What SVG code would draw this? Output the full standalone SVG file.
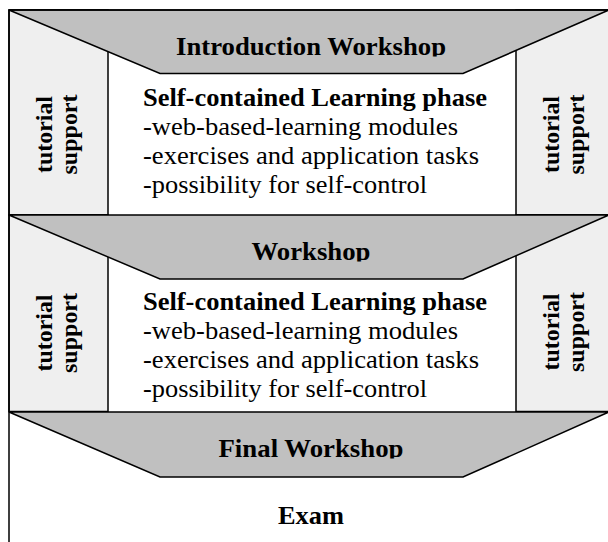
<svg xmlns="http://www.w3.org/2000/svg" width="608" height="542" viewBox="0 0 608 542">
<style>
.ln{stroke:#000;stroke-width:1.5;fill:none}
.panel{fill:#efefef;stroke:#000;stroke-width:1.5}
.trap{fill:#c0c0c0;stroke:#000;stroke-width:1.5;stroke-linejoin:miter}
text{font-family:'Liberation Serif',serif;fill:#000}
.b{font-weight:bold}
.title{font-size:25px;font-weight:bold;text-anchor:middle}
.body{font-size:25px}
.vert{font-size:23px;font-weight:bold;text-anchor:middle}
</style>
<defs>
<clipPath id="c1"><rect x="0" y="0" width="608" height="56.5"/></clipPath>
<clipPath id="c2"><rect x="0" y="215" width="608" height="46.5"/></clipPath>
<clipPath id="c3"><rect x="0" y="412" width="608" height="46.5"/></clipPath>
</defs>
<rect x="0" y="0" width="608" height="542" fill="#fff"/>

<g id="section1">
<g id="tutorial-left-1">
<rect class="panel" x="9" y="10" width="99" height="205"/>
<text class="vert" font-family="Liberation Serif, serif" transform="translate(51.5,134.5) rotate(-90)" textLength="77" lengthAdjust="spacingAndGlyphs">tutorial</text>
<text class="vert" font-family="Liberation Serif, serif" transform="translate(77,134.5) rotate(-90)" textLength="80" lengthAdjust="spacingAndGlyphs">support</text>
</g>
<g id="tutorial-right-1">
<rect class="panel" x="516" y="10" width="93" height="205"/>
<text class="vert" font-family="Liberation Serif, serif" transform="translate(558.5,134.5) rotate(-90)" textLength="77" lengthAdjust="spacingAndGlyphs">tutorial</text>
<text class="vert" font-family="Liberation Serif, serif" transform="translate(584,134.5) rotate(-90)" textLength="80" lengthAdjust="spacingAndGlyphs">support</text>
</g>
<g id="intro-workshop">
<polygon class="trap" points="9,10 609,10 463,73.5 160,73.5"/>
<text class="title" font-family="Liberation Serif, serif" x="311" y="55" textLength="270" lengthAdjust="spacingAndGlyphs" clip-path="url(#c1)">Introduction Workshop</text>
</g>
<g id="learning-1">
<text class="body b" font-family="Liberation Serif, serif" x="143" y="106" textLength="344" lengthAdjust="spacingAndGlyphs">Self-contained Learning phase</text>
<text class="body" font-family="Liberation Serif, serif" x="143" y="135" textLength="315" lengthAdjust="spacingAndGlyphs">-web-based-learning modules</text>
<text class="body" font-family="Liberation Serif, serif" x="143" y="164" textLength="336" lengthAdjust="spacingAndGlyphs">-exercises and application tasks</text>
<text class="body" font-family="Liberation Serif, serif" x="143" y="193" textLength="284" lengthAdjust="spacingAndGlyphs">-possibility for self-control</text>
</g>
</g>

<g id="section2">
<g id="tutorial-left-2">
<rect class="panel" x="9" y="215" width="99" height="196.5"/>
<text class="vert" font-family="Liberation Serif, serif" transform="translate(51.5,333) rotate(-90)" textLength="77" lengthAdjust="spacingAndGlyphs">tutorial</text>
<text class="vert" font-family="Liberation Serif, serif" transform="translate(77,333) rotate(-90)" textLength="80" lengthAdjust="spacingAndGlyphs">support</text>
</g>
<g id="tutorial-right-2">
<rect class="panel" x="516" y="215" width="93" height="196.5"/>
<text class="vert" font-family="Liberation Serif, serif" transform="translate(558.5,332) rotate(-90)" textLength="77" lengthAdjust="spacingAndGlyphs">tutorial</text>
<text class="vert" font-family="Liberation Serif, serif" transform="translate(584,332) rotate(-90)" textLength="80" lengthAdjust="spacingAndGlyphs">support</text>
</g>
<g id="workshop">
<polygon class="trap" points="9,215 609,215 463,279 160,279"/>
<text class="title" font-family="Liberation Serif, serif" x="311" y="260" textLength="119" lengthAdjust="spacingAndGlyphs" clip-path="url(#c2)">Workshop</text>
</g>
<g id="learning-2">
<text class="body b" font-family="Liberation Serif, serif" x="143" y="309.5" textLength="344" lengthAdjust="spacingAndGlyphs">Self-contained Learning phase</text>
<text class="body" font-family="Liberation Serif, serif" x="143" y="338.5" textLength="315" lengthAdjust="spacingAndGlyphs">-web-based-learning modules</text>
<text class="body" font-family="Liberation Serif, serif" x="143" y="367.5" textLength="336" lengthAdjust="spacingAndGlyphs">-exercises and application tasks</text>
<text class="body" font-family="Liberation Serif, serif" x="143" y="396.5" textLength="284" lengthAdjust="spacingAndGlyphs">-possibility for self-control</text>
</g>
</g>

<g id="section3">
<g id="final-workshop">
<polygon class="trap" points="9,412 609,412 463,477 160,477"/>
<text class="title" font-family="Liberation Serif, serif" x="311" y="457" textLength="185" lengthAdjust="spacingAndGlyphs" clip-path="url(#c3)">Final Workshop</text>
</g>
<g id="exam">
<text class="title" font-family="Liberation Serif, serif" x="311" y="524" textLength="66" lengthAdjust="spacingAndGlyphs">Exam</text>
</g>
</g>

<g id="frame">
<path class="ln" d="M9,550 V10 H609"/>
</g>
<g id="connectors"></g>
</svg>
